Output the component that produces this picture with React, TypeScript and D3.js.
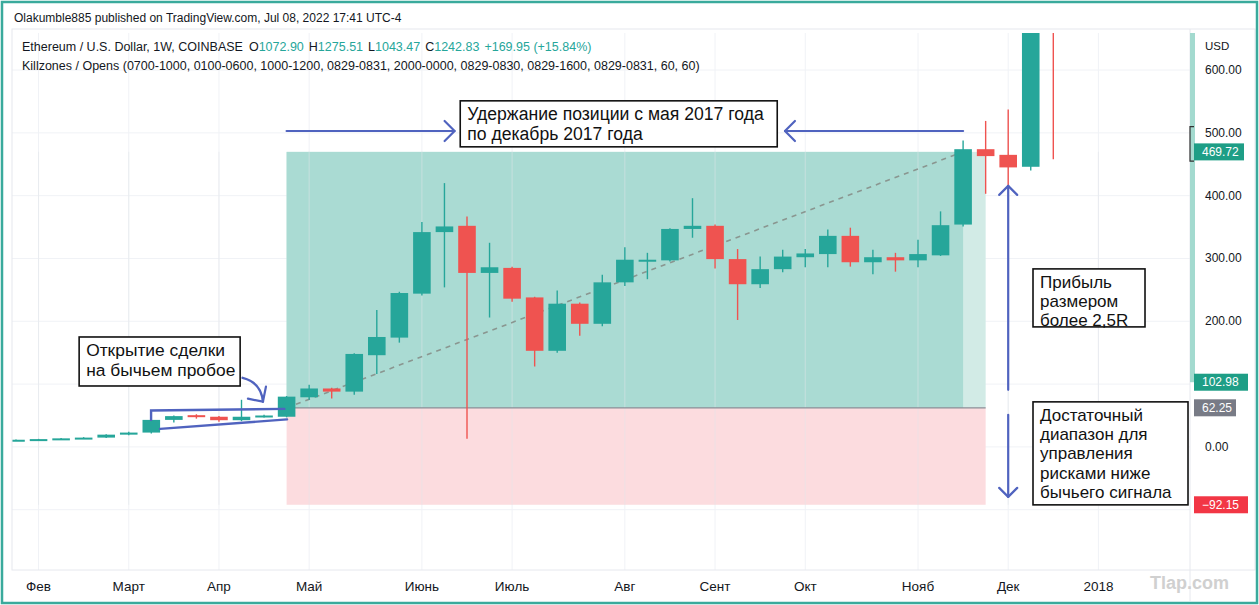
import React from 'react'
import * as d3 from 'd3'

// Ethereum / USD weekly candles, first bar = week of 30 Jan 2017
const firstWeek = '2017-01-30'
const opens = [10.5, 11.4, 12.4, 13.6, 14.8, 19.5, 22.8, 43, 50.5, 48, 42.5, 48, 48, 79, 93, 88, 146, 174, 244, 342, 352, 277, 285, 238, 153, 228, 196, 262, 296, 297, 347, 352, 299, 259, 283, 302, 307, 336, 294, 302, 297, 305, 354, 474, 465, 446, 760]
const highs = [11.8, 12.8, 14, 15.5, 20, 24, 44, 50, 52, 49, 75, 51, 81, 99, 94, 149, 218, 247, 358, 420, 367, 325, 287, 239, 249, 230, 274, 318, 309, 348, 396, 354, 315, 303, 314, 315, 346, 349, 314, 309, 330, 375, 488, 519, 537, 740, 880]
const lows = [10.2, 11, 12, 13, 14.2, 18.5, 21.5, 39, 45, 40, 41, 47, 47, 75, 77, 83, 116, 166, 241, 254, 13, 206, 231, 128, 150, 177, 192, 256, 267, 295, 333, 284, 202, 253, 278, 286, 286, 287, 275, 279, 286, 304, 351, 403, 410, 440, 458]
const closes = [11.4, 12.4, 13.6, 14.8, 19.5, 22.8, 43, 49, 47.5, 42.5, 48, 50, 80, 93, 88, 148, 175, 245, 342, 351, 277, 286, 236, 153, 228, 196, 262, 298, 298, 347, 352, 299, 259, 283, 303, 308, 336, 294, 302, 297, 307, 353, 474, 463, 445, 690, 700]

// time axis
const monthLabels = ['Фев', 'Март', 'Апр', 'Май', 'Июнь', 'Июль', 'Авг', 'Сент', 'Окт', 'Нояб', 'Дек', '2018']
const monthDates = ['2017-02-06', '2017-03-06', '2017-04-03', '2017-05-01', '2017-06-05', '2017-07-03', '2017-08-07', '2017-09-04', '2017-10-02', '2017-11-06', '2017-12-04', '2018-01-01']

// price axis
const priceTicks = [600, 500, 400, 300, 200, 0]
const gridPrices = [600, 500, 400, 300, 200, 100, 0, -100]

// long position tool
const entryWeek = 12
const targetHitWeek = 42
const endWeek = 43
const entryPrice = 62.25
const targetPrice = 469.72
const stopPrice = -92.15
const rangeLow = 102.98

const headerText = 'Olakumble885 published on TradingView.com, Jul 08, 2022 17:41 UTC-4'
const symbolText = 'Ethereum / U.S. Dollar, 1W, COINBASE'
const ohlcLabels = ['O', 'H', 'L', 'C']
const ohlcValues = ['1072.90', '1275.51', '1043.47', '1242.83']
const changeText = '+169.95 (+15.84%)'
const studyText = 'Killzones / Opens (0700-1000, 0100-0600, 1000-1200, 0829-0831, 2000-0000, 0829-0830, 0829-1600, 0829-0831, 60, 60)'

const holdText = ['Удержание позиции с мая 2017 года', 'по декабрь 2017 года']
const entryText = ['Открытие сделки', 'на бычьем пробое']
const profitText = ['Прибыль', 'размером', 'более 2,5R']
const riskText = ['Достаточный', 'диапазон для', 'управления', 'рисками ниже', 'бычьего сигнала']

const GREEN = '#26a69a'
const RED = '#ef5350'
const BLUE = '#5063bf'
const FONT = '"Liberation Sans", Arial, sans-serif'

const W = 1259
const H = 605
const pane = { left: 12, right: 1190, top: 33, bottom: 570 }

const parse = d3.utcParse('%Y-%m-%d')
const start = parse(firstWeek) as Date
const weekDate = (w: number) => new Date(start.getTime() + w * 7 * 864e5)

const x = d3.scaleUtc().domain([start, parse('2018-01-01') as Date]).range([16, 1098.4])
const y = d3.scaleLinear().domain([-196, 659]).range([pane.bottom, pane.top])
const xw = (w: number) => x(weekDate(w))

const candles = opens.map((o, i) => ({ date: weekDate(i), o, h: highs[i], l: lows[i], c: closes[i] }))

function NoteBox({ left, top, width, height, lines, size, gap }: any) {
  return (
    <g>
      <rect x={left} y={top} width={width} height={height} fill="#fff" stroke="#111" strokeWidth={1.6} />
      {lines.map((t: string, i: number) => (
        <text key={i} x={left + 7} y={top + size + 2 + i * gap} fontSize={size} fontFamily={FONT} fill="#111">
          {t}
        </text>
      ))}
    </g>
  )
}

function Chevron({ tx, ty, dx, dy }: any) {
  // open arrow head at (tx,ty); (dx,dy) points back along the shaft
  const nx = -dy
  const ny = dx
  return (
    <polyline
      points={`${tx + dx + nx},${ty + dy + ny} ${tx},${ty} ${tx + dx - nx},${ty + dy - ny}`}
      fill="none"
      stroke={BLUE}
      strokeWidth={2.2}
      strokeLinecap="round"
      strokeLinejoin="round"
    />
  )
}

export default function App() {
  const bw = (x(weekDate(1)) - x(weekDate(0))) * 0.78
  const xEntry = xw(entryWeek)
  const xHit = xw(targetHitWeek)
  const xEnd = xw(endWeek)

  const holdY = y(503)
  const arrowX = xw(44)

  return (
    <svg width={W} height={H} style={{ position: 'absolute', left: 0, top: 0, background: '#fff' }}>
      <defs>
        <clipPath id="pane">
          <rect x={pane.left} y={pane.top} width={pane.right - pane.left} height={pane.bottom - pane.top} />
        </clipPath>
      </defs>
      <rect x={0} y={0} width={W} height={H} fill="#fff" />

      {/* grid */}
      <g stroke="#f0f2f6" strokeWidth={1}>
        {gridPrices.map((p) => (
          <line key={p} x1={pane.left} x2={pane.right} y1={y(p)} y2={y(p)} />
        ))}
        {monthDates.map((d) => (
          <line key={d} x1={x(parse(d) as Date)} x2={x(parse(d) as Date)} y1={pane.top} y2={pane.bottom} />
        ))}
      </g>

      {/* position tool */}
      <g clipPath="url(#pane)">
        <rect x={xEntry} y={y(entryPrice)} width={xEnd - xEntry} height={y(stopPrice) - y(entryPrice)} fill="#fcdcdf" />
        <rect x={xEntry} y={y(targetPrice)} width={xEnd - xEntry} height={y(entryPrice) - y(targetPrice)} fill="#d2ebe6" />
        <rect x={xEntry} y={y(targetPrice)} width={xHit - xEntry} height={y(entryPrice) - y(targetPrice)} fill="#aadbd3" />
        <g stroke="#e2e6ea" strokeWidth={1} opacity={0.5}>
          {monthDates.map((d) => (
            <line key={d} x1={x(parse(d) as Date)} x2={x(parse(d) as Date)} y1={y(targetPrice)} y2={y(stopPrice)} />
          ))}
        </g>
        <line x1={xEntry} x2={xEnd} y1={y(entryPrice)} y2={y(entryPrice)} stroke="#8a8d96" strokeWidth={1.2} />
        <line
          x1={xEntry}
          y1={y(entryPrice)}
          x2={xHit}
          y2={y(targetPrice)}
          stroke="#8a9690"
          strokeWidth={1.6}
          strokeDasharray="5 5"
        />
      </g>

      {/* candles */}
      <g clipPath="url(#pane)">
        {candles.map((c, i) => {
          const col = c.c >= c.o ? GREEN : RED
          const cx = x(c.date)
          const top = y(Math.max(c.o, c.c))
          const bh = Math.max(2, y(Math.min(c.o, c.c)) - top)
          return (
            <g key={i}>
              <line x1={cx} x2={cx} y1={y(c.h)} y2={y(c.l)} stroke={col} strokeWidth={1.4} />
              <rect x={cx - bw / 2} y={top} width={bw} height={bh} fill={col} />
            </g>
          )
        })}
      </g>

      {/* wedge lines around the consolidation */}
      <g stroke={BLUE} strokeWidth={2.4} strokeLinecap="round" fill="none">
        <polyline points={`${xw(5.99)},${y(43)} ${xw(5.99)},${y(58)} ${xw(11.9)},${y(60.5)}`} />
        <line x1={xw(6.39)} y1={y(28.7)} x2={xw(12.02)} y2={y(43.8)} />
        <path d={`M${xw(10.05)},${y(110)} C${xw(10.6)},${y(105)} ${xw(10.9)},${y(92)} ${xw(10.95)},${y(72)}`} />
      </g>
      <Chevron tx={xw(10.95)} ty={y(72)} dx={-6} dy={-9} />

      {/* holding period arrows */}
      <g stroke={BLUE} strokeWidth={2.2} strokeLinecap="round">
        <line x1={xEntry} x2={xw(19.45)} y1={holdY} y2={holdY} />
        <line x1={xw(34.1)} x2={xHit} y1={holdY} y2={holdY} />
        <line x1={arrowX} x2={arrowX} y1={y(90.8)} y2={y(415.6)} />
        <line x1={arrowX} x2={arrowX} y1={y(51)} y2={y(-79.6)} />
      </g>
      <Chevron tx={xw(19.45)} ty={holdY} dx={-10} dy={0} />
      <Chevron tx={xw(34.1)} ty={holdY} dx={10} dy={0} />
      <Chevron tx={arrowX} ty={y(415.6)} dx={0} dy={9} />
      <Chevron tx={arrowX} ty={y(-79.6)} dx={0} dy={-9} />

      {/* notes */}
      <NoteBox left={xw(19.7)} top={y(551)} width={317} height={46} lines={holdText} size={17.6} gap={20} />
      <NoteBox left={xw(2.8)} top={y(175)} width={161} height={49} lines={entryText} size={17.4} gap={20} />
      <NoteBox left={xw(45.1)} top={y(283.4)} width={112} height={58} lines={profitText} size={17} gap={19} />
      <NoteBox left={xw(45.1)} top={y(71.7)} width={155} height={103} lines={riskText} size={17} gap={19.3} />

      {/* pane borders */}
      <rect x={pane.left} y={29} width={1243} height={pane.bottom - 29} fill="none" stroke="#e6e8ee" strokeWidth={1} />
      <line x1={pane.right} x2={pane.right} y1={29} y2={H - 4} stroke="#e6e8ee" />

      {/* price axis */}
      <rect x={pane.right} y={pane.top} width={5} height={y(rangeLow) - pane.top} fill="#a3dacf" />
      <polyline
        points={`${pane.right + 4},${y(510)} ${pane.right},${y(510)} ${pane.right},${y(455)} ${pane.right + 4},${y(455)}`}
        fill="none"
        stroke="#333"
        strokeWidth={1.2}
      />
      <text x={1205} y={50} fontSize={11.5} fontFamily={FONT} fill="#131722">USD</text>
      {priceTicks.map((p) => (
        <text key={p} x={1205} y={y(p) + 4} fontSize={12} fontFamily={FONT} fill="#131722">
          {d3.format('.2f')(p)}
        </text>
      ))}
      {[
        { v: targetPrice, fill: '#1e9e86', w: 50 },
        { v: rangeLow, fill: '#1e9e86', w: 54 },
        { v: entryPrice, fill: '#787b86', w: 42 },
        { v: stopPrice, fill: '#f23645', w: 54 },
      ].map((b) => (
        <g key={b.v}>
          <rect x={1194} y={y(b.v) - 8.5} width={b.w} height={17} fill={b.fill} />
          <text x={1202} y={y(b.v) + 4} fontSize={12} fontFamily={FONT} fill="#fff">
            {d3.format('.2f')(b.v).replace('-', '\u2212')}
          </text>
        </g>
      ))}

      {/* time axis */}
      {monthLabels.map((m, i) => (
        <text
          key={m}
          x={x(parse(monthDates[i]) as Date)}
          y={591}
          textAnchor="middle"
          fontSize={13.5}
          fontFamily={FONT}
          fill="#131722"
        >
          {m}
        </text>
      ))}
      <text x={1150} y={589} fontSize={18} fontWeight="bold" fontFamily={FONT} fill="#d0d0d0">
        Tlap.com
      </text>

      {/* header and legend */}
      <text x={14} y={22} fontSize={12} fontFamily={FONT} fill="#131722">{headerText}</text>
      <text x={22} y={51} fontSize={12.5} fontFamily={FONT} fill="#131722">
        {symbolText}
        {ohlcLabels.map((l, i) => (
          <tspan key={l}>
            <tspan dx={i === 0 ? 6 : 5}>{l}</tspan>
            <tspan fill={GREEN}>{ohlcValues[i]}</tspan>
          </tspan>
        ))}
        <tspan dx={5} fill={GREEN}>{changeText}</tspan>
      </text>
      <text x={22} y={70} fontSize={12.5} fontFamily={FONT} fill="#131722">{studyText}</text>

      {/* outer frame */}
      <rect x={2} y={2} width={W - 4} height={H - 4} fill="none" stroke="#3aaa9c" strokeWidth={2.5} />
    </svg>
  )
}
